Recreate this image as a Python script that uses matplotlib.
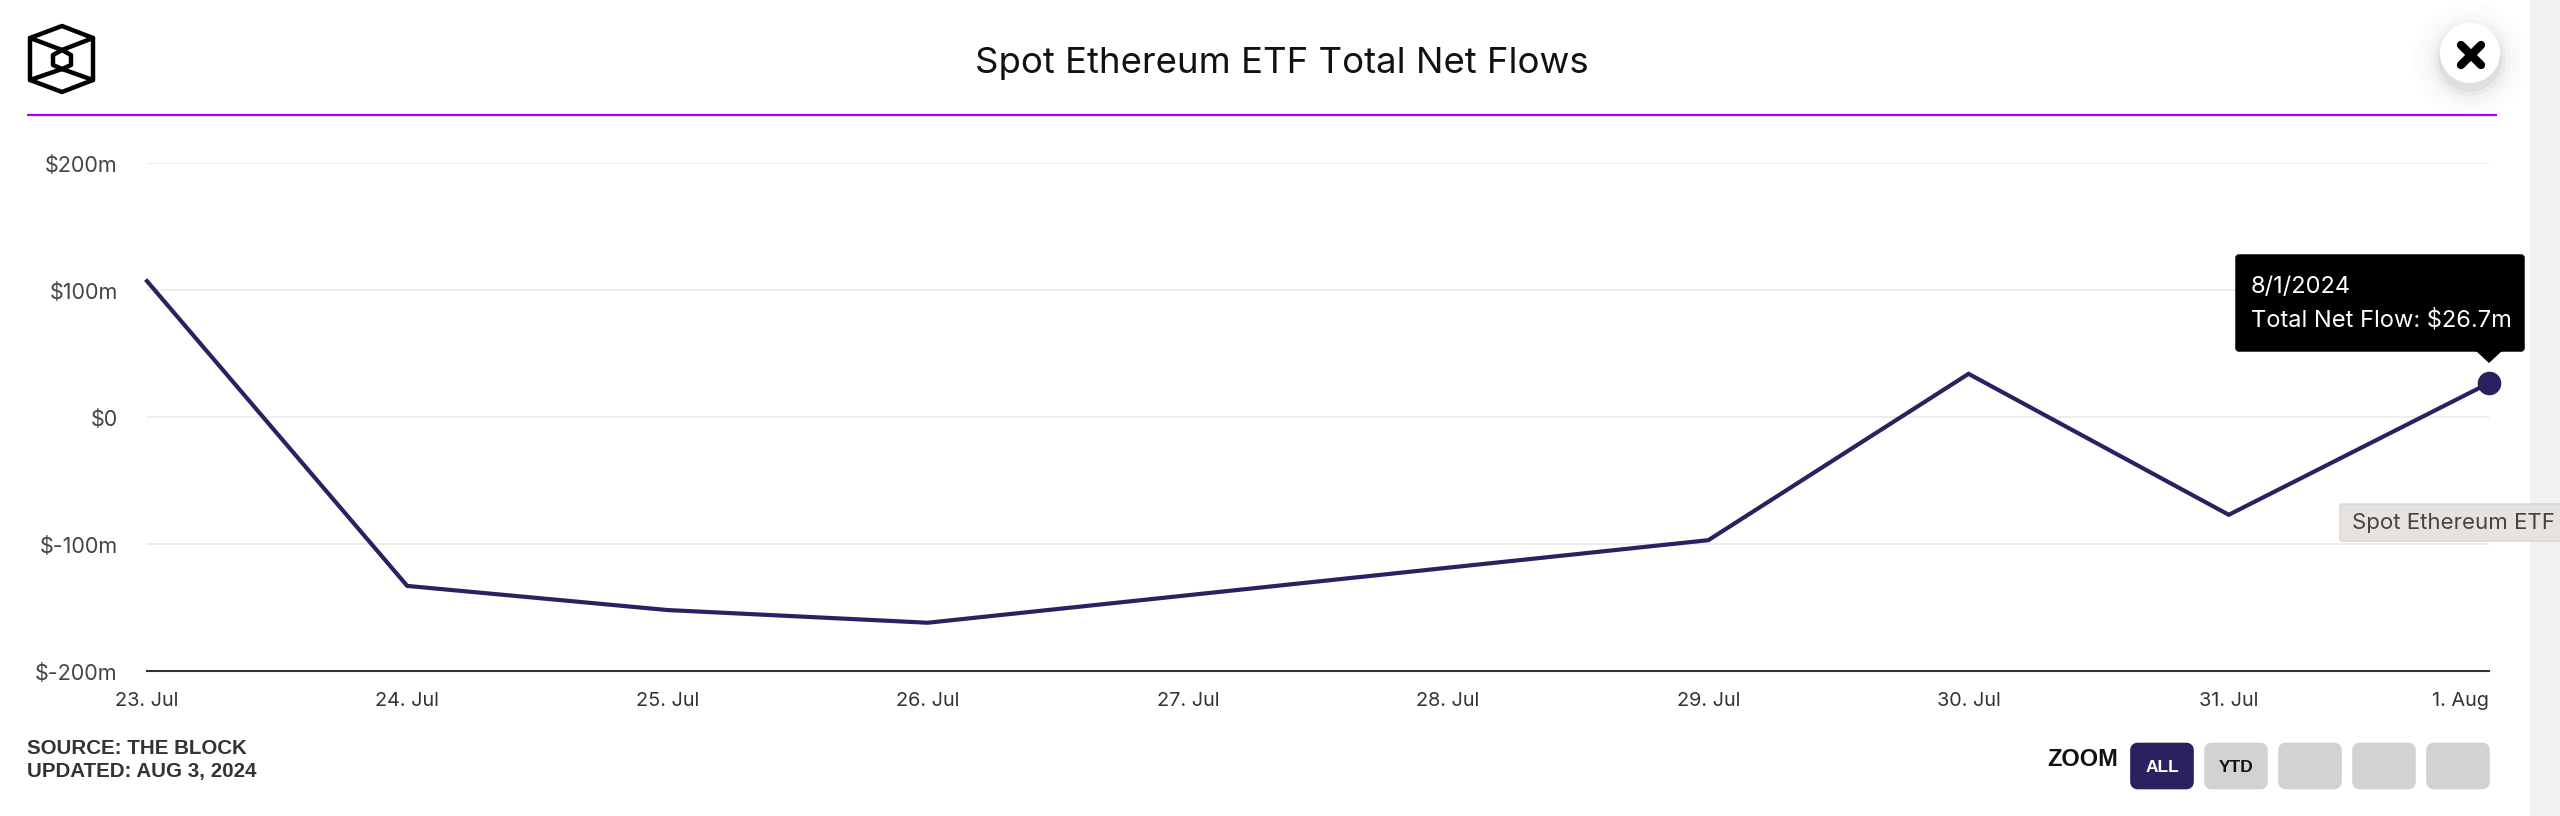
import pandas as pd
import matplotlib
matplotlib.use("Agg")
import matplotlib.pyplot as plt
from matplotlib.patches import Circle, FancyBboxPatch, Polygon, Rectangle
from matplotlib.transforms import ScaledTranslation

# no flows on the weekend (27/28 Jul), the line just runs across
flow_dates = ["2024-07-23", "2024-07-24", "2024-07-25", "2024-07-26",
              "2024-07-29", "2024-07-30", "2024-07-31", "2024-08-01"]
net_flows = [107, -133, -152, -162, -97, 34, -77, 26.7]

tick_dates = pd.date_range("2024-07-23", "2024-08-01", freq="D")
tick_labels = ["23. Jul", "24. Jul", "25. Jul", "26. Jul", "27. Jul",
               "28. Jul", "29. Jul", "30. Jul", "31. Jul", "1. Aug"]
y_ticks = [-200, -100, 0, 100, 200]
y_labels = ["$-200m", "$-100m", "$0", "$100m", "$200m"]
buttons = ["ALL", "YTD", "", "", ""]

W, H = 2560, 816
NAVY = "#2a2160"
UI_FONT = "Inter"
BOLD_FONT = "Liberation Sans"


def button(ax, x, w, label, active):
    face = NAVY if active else "#d2d2d2"
    ax.add_patch(FancyBboxPatch((x + 4, 746.5), w - 8, 39,
                                boxstyle="round,pad=0,rounding_size=4",
                                mutation_aspect=1, fc=face, ec=face, lw=5.5))
    ax.text(x + w / 2, 768, label, color="white" if active else "#111111",
            fontsize=12.5, fontfamily=BOLD_FONT, fontweight="bold",
            ha="center", va="center")


fig = plt.figure(figsize=(W / 100, H / 100), dpi=100, facecolor="white")

# chart area
ax = fig.add_axes([147 / W, (H - 671) / H, 2342 / W, 508 / H])
dates = pd.to_datetime(flow_dates)
ax.plot(dates, net_flows, color=NAVY, lw=3.0, clip_on=False, zorder=3,
        solid_joinstyle="miter")
ax.plot(dates[-1], net_flows[-1], "o", color=NAVY, ms=17, mew=0,
        clip_on=False, zorder=4)

ax.set_xlim(tick_dates[0], tick_dates[-1])
ax.set_ylim(-200, 200)
ax.set_xticks(tick_dates)
ax.set_xticklabels(tick_labels, fontsize=14.3, color="#333333", fontfamily=UI_FONT)
ax.set_yticks(y_ticks)
ax.set_yticklabels(y_labels, fontsize=15.5, color="#444444", fontfamily=UI_FONT)
ax.tick_params(axis="x", length=0, pad=15)
ax.tick_params(axis="y", length=0, pad=21)
ax.grid(axis="y", color="#ececec", lw=1.4)
ax.set_axisbelow(True)
for side in ["top", "right", "left"]:
    ax.spines[side].set_visible(False)
ax.spines["bottom"].set_color("#333333")
ax.spines["bottom"].set_linewidth(1.5)

nudge = ScaledTranslation(0, -0.7 / 72, fig.dpi_scale_trans)
for lab in ax.get_yticklabels():
    lab.set_transform(lab.get_transform() + nudge)

labels = ax.get_xticklabels()
labels[-1].set_ha("right")
labels[-1].set_x(labels[-1].get_position()[0])

# page furniture, in pixel coords
ui = fig.add_axes([0, 0, 1, 1], zorder=5)
ui.set_xlim(0, W)
ui.set_ylim(H, 0)
ui.axis("off")
ui.patch.set_alpha(0)

ui.add_patch(Rectangle((2530, 0), 30, H, fc="#f1f1f1", ec="none"))
ui.plot([27, 2497], [115, 115], color="#aa00ff", lw=1.6, solid_capstyle="butt")
ui.text(1282, 64, "Spot Ethereum ETF Total Net Flows", fontsize=26.3,
        fontfamily=UI_FONT, color="#111111", ha="center", va="center")

# logo
outer = [(62, 26), (93, 38), (93, 80), (62, 92), (30, 80), (30, 38)]
inner = [(62, 50), (71, 55), (71, 65), (62, 69), (53, 65), (53, 55)]
ui.add_patch(Polygon(outer, closed=True, fc="none", ec="black", lw=3.2, joinstyle="round"))
ui.add_patch(Polygon(inner, closed=True, fc="none", ec="black", lw=3.2, joinstyle="round"))
for a, b in [(5, 0), (1, 0), (4, 3), (2, 3)]:
    ui.plot([outer[a][0], inner[b][0]], [outer[a][1], inner[b][1]],
            color="black", lw=3.2, solid_capstyle="round")

# close button
for r, alpha in [(58, 0.006), (52, 0.008), (46, 0.012), (41, 0.018), (36, 0.03), (32, 0.05)]:
    ui.add_patch(Circle((2470, 60), r, fc="black", ec="none", alpha=alpha))
ui.add_patch(Circle((2470, 53), 30, fc="white", ec="none"))
ui.plot([2461, 2481], [45, 65], color="black", lw=6, solid_capstyle="round")
ui.plot([2461, 2481], [65, 45], color="black", lw=6, solid_capstyle="round")

# tooltip
ui.add_patch(FancyBboxPatch((2237, 256), 286, 94,
                            boxstyle="round,pad=0,rounding_size=2",
                            mutation_aspect=1, fc="black", ec="black", lw=2.5))
ui.add_patch(Polygon([(2476, 351), (2502, 351), (2489, 363)], closed=True, fc="black", ec="none"))
ui.text(2251, 287, "8/1/2024", color="white", fontsize=17, fontfamily=UI_FONT, va="center")
ui.text(2251, 320, "Total Net Flow: $26.7m", color="white", fontsize=17,
        fontfamily=UI_FONT, va="center")

# series label hanging off the right edge
ui.add_patch(FancyBboxPatch((2340, 504), 240, 37,
                            boxstyle="round,pad=0,rounding_size=2",
                            mutation_aspect=1, fc="#e6e2df", ec="#d8d4d1", lw=1))
ui.text(2352, 523, "Spot Ethereum ETF", color="#444444", fontsize=16,
        fontfamily=UI_FONT, va="center")

# footer
ui.text(27, 749, "SOURCE: THE BLOCK", color="#333333", fontsize=14.8,
        fontfamily=BOLD_FONT, fontweight="bold", va="center")
ui.text(27, 772, "UPDATED: AUG 3, 2024", color="#333333", fontsize=14.8,
        fontfamily=BOLD_FONT, fontweight="bold", va="center")
ui.text(2118, 759, "ZOOM", color="#111111", fontsize=17, fontfamily=BOLD_FONT,
        fontweight="bold", ha="right", va="center")
for i, label in enumerate(buttons):
    button(ui, 2130 + i * 74, 64, label, i == 0)

fig.savefig("out.png", dpi=100)
